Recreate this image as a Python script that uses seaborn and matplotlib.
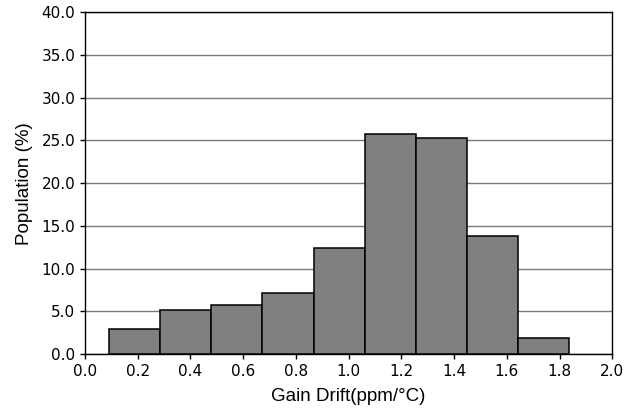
import numpy as np
import pandas as pd
import matplotlib
matplotlib.use("Agg")
import matplotlib.pyplot as plt
import seaborn as sns

# Histogram bins (ppm/°C) and population share per bin (%)
bin_start = 0.092
bin_width = 0.1937
populations = [2.9, 5.2, 5.7, 7.1, 12.4, 25.8, 25.3, 13.8, 1.9]
x_ticks = [0.0, 0.2, 0.4, 0.6, 0.8, 1.0, 1.2, 1.4, 1.6, 1.8, 2.0]
y_ticks = [0.0, 5.0, 10.0, 15.0, 20.0, 25.0, 30.0, 35.0, 40.0]

edges = bin_start + bin_width * np.arange(len(populations) + 1)
centers = (edges[:-1] + edges[1:]) / 2
df = pd.DataFrame({"drift": centers, "population": populations})

sns.set_theme(style="white")
plt.rcParams["font.family"] = ["DejaVu Sans"]

fig = plt.figure(figsize=(6.37, 4.09), dpi=100)
ax = fig.add_axes([0.1334, 0.1345, 0.9612 - 0.1334, 0.9697 - 0.1345])

sns.histplot(data=df, x="drift", weights="population", bins=list(edges), ax=ax,
             color="#808080", edgecolor="black", linewidth=1.1, alpha=1.0,
             zorder=3)

ax.set_xlim(0, 2.0)
ax.set_ylim(0, 40)
ax.set_xticks(x_ticks)
ax.set_yticks(y_ticks)
ax.set_xticklabels([f"{v:.1f}" for v in x_ticks])
ax.set_yticklabels([f"{v:.1f}" for v in y_ticks])

ax.yaxis.grid(True, color="#7a7a7a", linewidth=1.0, zorder=0)
ax.xaxis.grid(False)
ax.set_axisbelow(True)

for side in ["left", "right", "top", "bottom"]:
    ax.spines[side].set_visible(True)
    ax.spines[side].set_color("black")
    ax.spines[side].set_linewidth(1.0)

ax.tick_params(axis="both", direction="out", length=3.5, width=1.0,
               colors="black", labelsize=11, bottom=True, left=True)
ax.tick_params(axis="x", pad=3.5)

label_font = dict(family="Liberation Sans", size=13.5, color="black")
ax.set_xlabel("Gain Drift(ppm/°C)", fontdict=label_font, labelpad=6.5)
ax.set_ylabel("Population (%)", fontdict=label_font, labelpad=6)

fig.savefig("out.png", dpi=100)
